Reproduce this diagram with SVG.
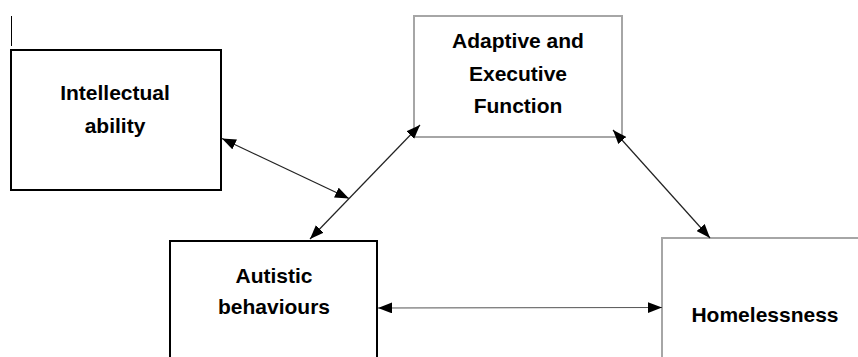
<svg xmlns="http://www.w3.org/2000/svg" width="858" height="357" viewBox="0 0 858 357">
<style>
.bk{fill:#fff;stroke:#000;stroke-width:2}
.gr{fill:#fff;stroke:#a6a6a6;stroke-width:2}
.t{font-family:"Liberation Sans",Arial,sans-serif;font-weight:bold;font-size:21px;fill:#000;text-anchor:middle}
.c{stroke:#222;stroke-width:1.2;fill:none;marker-start:url(#ah);marker-end:url(#ah)}
</style>
<defs>
<marker id="ah" markerUnits="userSpaceOnUse" markerWidth="14" markerHeight="11" viewBox="0 0 13 10" refX="13" refY="5" orient="auto-start-reverse">
<path d="M0,0 L13,5 L0,10 z" fill="#000"/>
</marker>
</defs>
<rect width="858" height="357" fill="#fff"/>
<line x1="11.5" y1="16" x2="11.5" y2="46" stroke="#000" stroke-width="1"/>
<g id="intellectual">
<rect class="bk" x="11" y="50" width="210" height="140"/>
<text class="t" x="115" y="100">Intellectual</text>
<text class="t" x="115" y="133">ability</text>
</g>
<g id="adaptive">
<rect class="gr" x="414" y="16" width="208" height="121"/>
<text class="t" x="518" y="48">Adaptive and</text>
<text class="t" x="518" y="81">Executive</text>
<text class="t" x="518" y="113">Function</text>
</g>
<g id="autistic">
<rect class="bk" x="170" y="241" width="207" height="130"/>
<text class="t" x="274" y="283">Autistic</text>
<text class="t" x="274" y="314">behaviours</text>
</g>
<g id="homelessness">
<rect class="gr" x="662" y="238" width="210" height="130"/>
<text class="t" x="765" y="322">Homelessness</text>
</g>
<g id="connectors">
<line class="c" x1="222" y1="138.5" x2="349" y2="198.5"/>
<line class="c" x1="420" y1="125" x2="310" y2="239"/>
<line class="c" x1="613" y1="130" x2="710" y2="238"/>
<line class="c" x1="378" y1="308" x2="662" y2="307.5" style="stroke:#555"/>
</g>
</svg>
